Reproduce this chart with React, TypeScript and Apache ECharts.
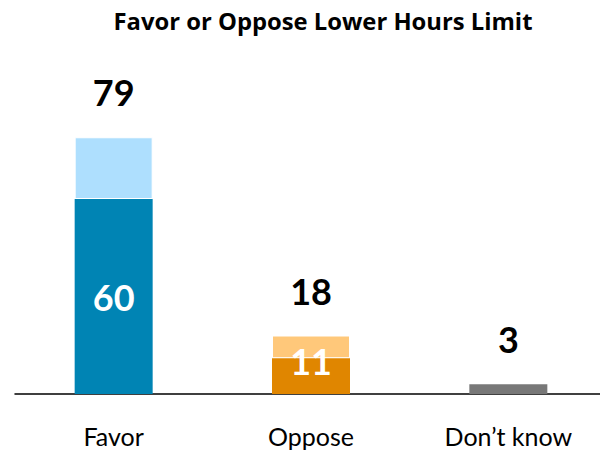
import React, { useEffect, useRef } from "react";
import * as echarts from "echarts";

const categories = ["Favor", "Oppose", "Don\u2019t know"];
const strongValues = [60, 11, 3];
const weakValues = [19, 7, 0];
const totalValues = [79, 18, 3];
const strongColors = ["#0084B4", "#E08600", "#787878"];
const weakColors = ["#AEDFFE", "#FFC87A", "#BBBBBB"];
const titleText = "Favor or Oppose Lower Hours Limit";

const FONT = "Lato, 'Open Sans', sans-serif";
const BW = 78;

export default function App() {
  const ref = useRef<HTMLDivElement>(null);
  useEffect(() => {
    if (!ref.current) return;
    const chart = echarts.init(ref.current, undefined, { renderer: "svg" });
    chart.setOption({
      animation: false,
      title: {
        text: titleText,
        left: 318,
        textAlign: "center",
        top: 4,
        textStyle: { fontFamily: "'Open Sans', sans-serif", fontWeight: "bold", fontSize: 23.8, color: "#000" },
      },
      grid: { left: 15, right: 3, top: 69, bottom: 57, containLabel: false },
      xAxis: {
        type: "category",
        data: categories,
        axisLine: { show: true, lineStyle: { color: "#000", width: 1.5 } },
        axisTick: { show: false },
        axisLabel: { fontFamily: FONT, fontSize: 25, color: "#000", margin: 29 },
      },
      yAxis: {
        type: "value",
        min: 0,
        max: 100,
        show: false,
        splitLine: { show: false },
      },
      series: [
        {
          type: "bar",
          stack: "s",
          barWidth: BW,
          barGap: "-100%",
          data: strongValues.map((v, i) => ({
            value: v,
            itemStyle: { color: strongColors[i] },
            label:
              i === 0
                ? { show: true, position: "inside" }
                : i === 1
                ? { show: true, position: "inside", offset: [0, -15] }
                : { show: false },
          })),
          label: {
            fontFamily: FONT,
            fontWeight: "bold",
            fontSize: 36,
            color: "#fff",
          },
          z: 3,
        },
        {
          type: "bar",
          stack: "s",
          barWidth: BW,
          barGap: "-100%",
          data: weakValues.map((v, i) => ({
            value: v,
            itemStyle: { color: weakColors[i], borderColor: "#fff", borderWidth: 1 },
          })),
          z: 2,
        },
        {
          type: "bar",
          barWidth: BW,
          barGap: "-100%",
          data: totalValues,
          itemStyle: { color: "rgba(0,0,0,0)" },
          label: {
            show: true,
            position: "top",
            distance: 27,
            fontFamily: FONT,
            fontWeight: "bold",
            fontSize: 36,
            color: "#000",
          },
          z: 1,
        },
      ],
    });
    return () => chart.dispose();
  }, []);
  return (
    <div style={{ width: 600, height: 451, position: "absolute", left: 0, top: 0, overflow: "hidden" }}>
      <div ref={ref} style={{ width: 610, height: 451 }} />
    </div>
  );
}
